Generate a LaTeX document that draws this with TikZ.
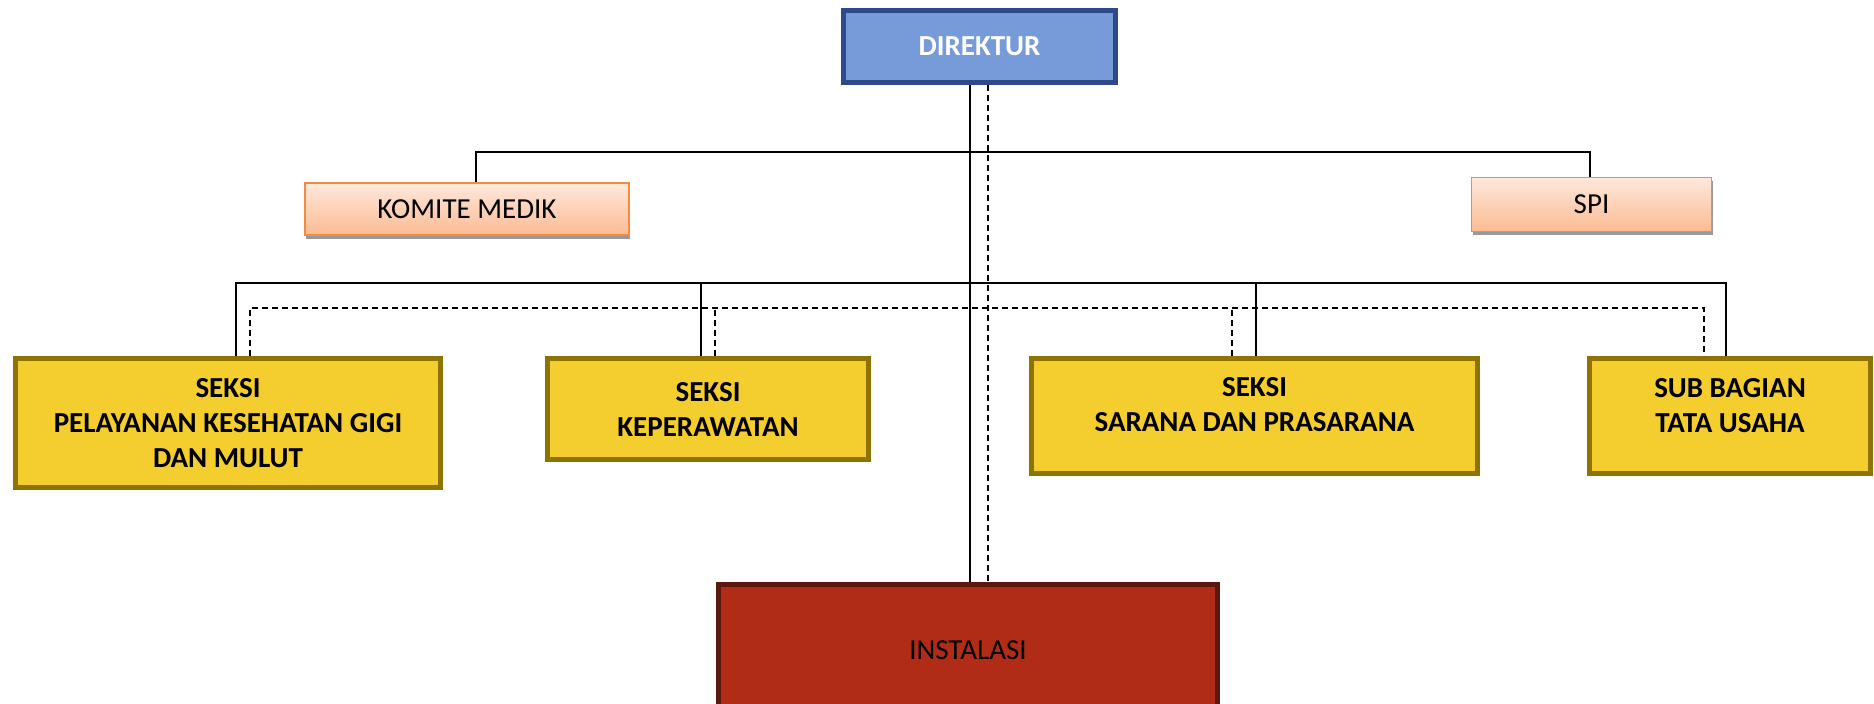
\documentclass[tikz,border=0pt]{standalone}
\usepackage{fontspec}
\setmainfont{Carlito}
\usepackage{xcolor}
\usepackage{tikz}
\usetikzlibrary{calc,shadows}
\definecolor{headfill}{HTML}{779BD9}
\definecolor{headdraw}{HTML}{2F4A8A}
\definecolor{stafftop}{HTML}{FEE8DC}
\definecolor{staffbot}{HTML}{FBBB92}
\definecolor{staffdraw}{HTML}{F68B3F}
\definecolor{seksifill}{HTML}{F4CE2E}
\definecolor{seksidraw}{HTML}{8F7300}
\definecolor{unitfill}{HTML}{B12C17}
\definecolor{unitdraw}{HTML}{5C170E}
\tikzset{
  oc box/.style={
    rectangle,
    align=center,
    inner sep=2pt,
    font=\fontsize{14.5}{17.5}\selectfont,
  },
  oc head/.style={
    oc box,
    line width=2.5pt,
    draw=headdraw,
    fill=headfill,
    text=white,
    font=\fontsize{14.5}{17.5}\selectfont\bfseries,
  },
  oc staff/.style={
    oc box,
    line width=0.75pt,
    draw=staffdraw,
    top color=stafftop,
    bottom color=staffbot,
    drop shadow={shadow xshift=0.6pt, shadow yshift=-2pt, fill=black!40, opacity=1},
  },
  oc seksi/.style={
    oc box,
    line width=2.5pt,
    draw=seksidraw,
    fill=seksifill,
    font=\fontsize{14.5}{17.5}\selectfont\bfseries,
  },
  oc unit/.style={
    oc box,
    line width=2.5pt,
    draw=unitdraw,
    fill=unitfill,
  },
  oc line/.style={line width=1pt},
  oc dash/.style={line width=1pt, dash pattern=on 3pt off 2pt},
}
\begin{document}
\begin{tikzpicture}[x=0.5pt, y=-0.5pt]
  \useasboundingbox (0,0) rectangle (1874,704);
  \coordinate (sbus) at (0,152);
  \coordinate (bus) at (0,283);
  \coordinate (dbus) at (0,308);
  \node[oc head, minimum width=136pt, minimum height=36pt] (direktur) at (979.5,46.5) {DIREKTUR};
  \node[oc staff, minimum width=162pt, minimum height=26pt] (komite) at (467,209) {KOMITE MEDIK};
  \node[oc staff, minimum width=120pt, minimum height=27pt] (spi) at (1591.5,204.5) {SPI};
  \node[oc seksi, minimum width=212.5pt, minimum height=64.5pt] (seksiA) at (228,423) {SEKSI\\PELAYANAN KESEHATAN GIGI\\DAN MULUT};
  \node[oc seksi, minimum width=160.5pt, minimum height=50.5pt] (seksiB) at (708,409) {SEKSI\\KEPERAWATAN};
  \node[oc seksi, minimum width=223pt, minimum height=57.5pt, text depth=12pt] (seksiC) at (1254.5,416) {SEKSI\\SARANA DAN PRASARANA};
  \node[oc seksi, minimum width=140.5pt, minimum height=57.5pt, text depth=11pt] (subbag) at (1730,416) {SUB BAGIAN\\TATA USAHA};
  \node[oc unit, minimum width=249.5pt, minimum height=65.5pt] (instalasi) at (968,650) {INSTALASI};
  % garis komando
  \draw[oc line] ([xshift=-4.75pt]direktur.south) -- ([xshift=-4.75pt]direktur.south |- instalasi.north);
  \draw[oc dash] ([xshift=4.25pt]direktur.south) -- ([xshift=4.25pt]direktur.south |- instalasi.north);
  \draw[oc line] ([xshift=4.5pt]komite.north) |- ([xshift=-0.75pt]spi.north |- sbus) -- ([xshift=-0.75pt]spi.north);
  \draw[oc line] ([xshift=4pt]seksiA.north) |- ([xshift=-2pt]subbag.north |- bus) -- ([xshift=-2pt]subbag.north);
  \draw[oc line] ([xshift=-3.5pt]seksiB.north) -- ([xshift=-3.5pt]seksiB.north |- bus);
  \draw[oc line] ([xshift=0.75pt]seksiC.north) -- ([xshift=0.75pt]seksiC.north |- bus);
  % garis koordinasi
  \draw[oc dash] ([xshift=11pt]seksiA.north) |- ([xshift=-13pt]subbag.north |- dbus) -- ([xshift=-13pt]subbag.north);
  \draw[oc dash] ([xshift=3.5pt]seksiB.north) -- ([xshift=3.5pt]seksiB.north |- dbus);
  \draw[oc dash] ([xshift=-11.25pt]seksiC.north) -- ([xshift=-11.25pt]seksiC.north |- dbus);
\end{tikzpicture}
\end{document}
